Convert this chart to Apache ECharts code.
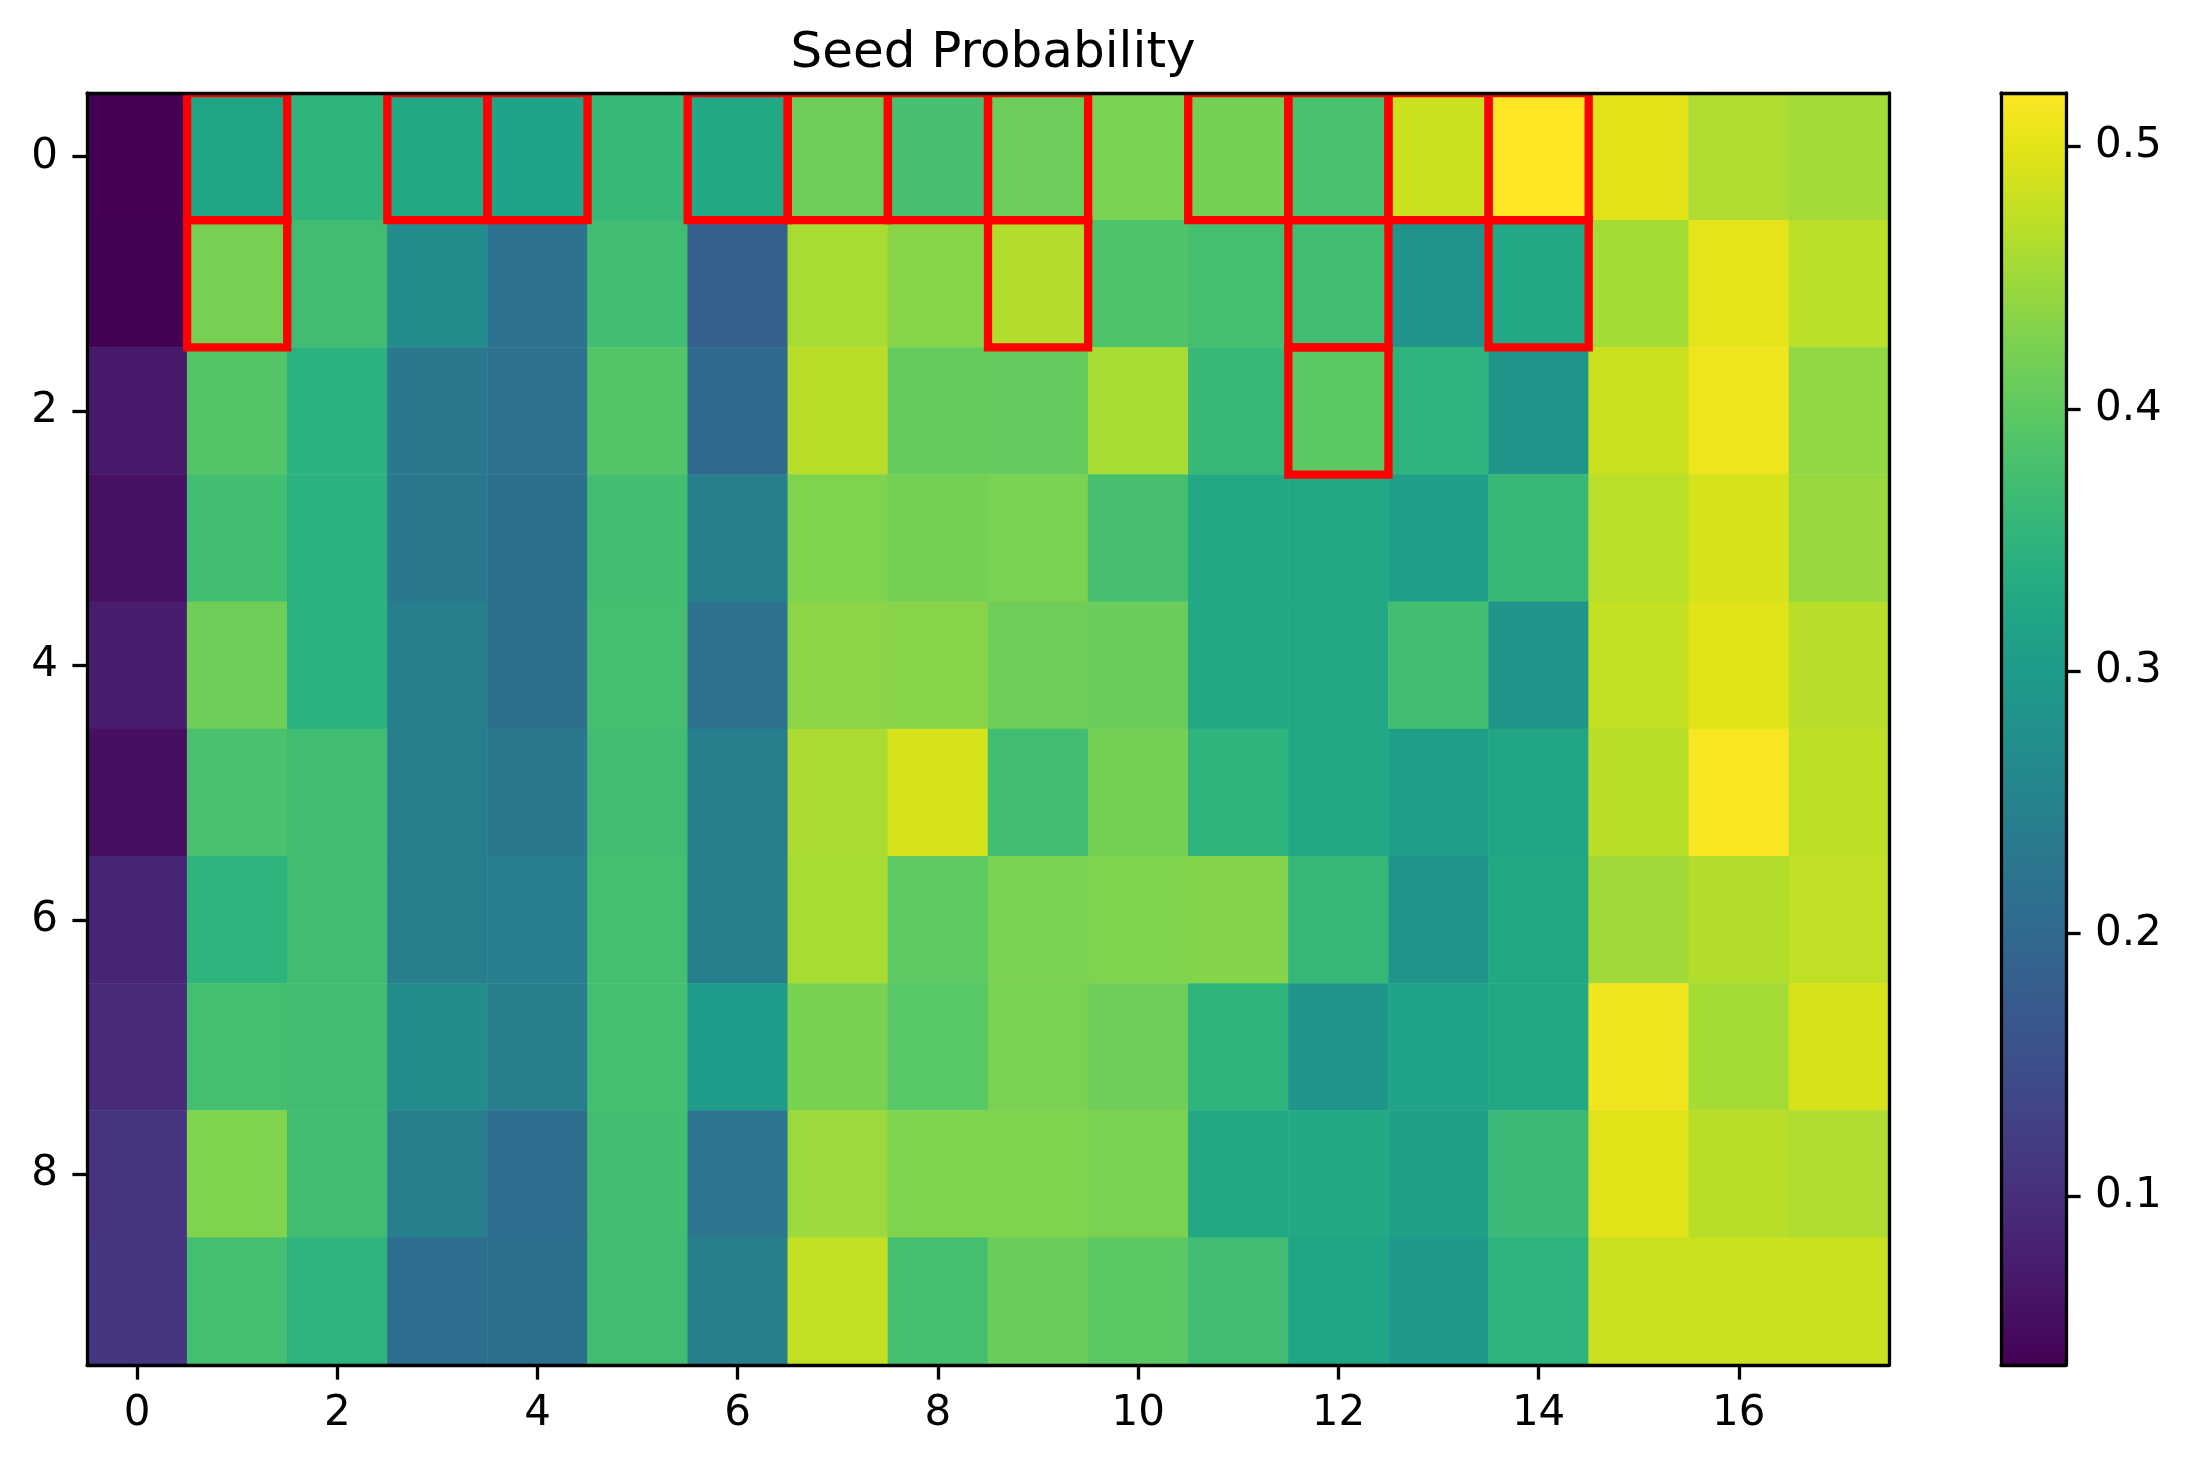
<!DOCTYPE html>
<html>
<head>
<meta charset="utf-8">
<script src="https://cdn.jsdelivr.net/npm/echarts@6/dist/echarts.min.js"></script>
<style>
html,body{margin:0;padding:0;background:#fff;}
#chart{width:2191px;height:1466px;}
</style>
</head>
<body>
<div id="chart"></div>
<script>
// ---- data ----
const xCategories = ['0','1','2','3','4','5','6','7','8','9','10','11','12','13','14','15','16','17'];
const yCategories = ['0','1','2','3','4','5','6','7','8','9'];
// rows (y = 0..9), each with 18 column values
const seedProb = [
  [0.036, 0.322, 0.351, 0.327, 0.317, 0.360, 0.327, 0.414, 0.377, 0.411, 0.424, 0.418, 0.380, 0.482, 0.520, 0.499, 0.461, 0.453],
  [0.037, 0.419, 0.370, 0.268, 0.217, 0.370, 0.186, 0.458, 0.433, 0.464, 0.385, 0.375, 0.370, 0.283, 0.327, 0.455, 0.501, 0.470],
  [0.069, 0.390, 0.346, 0.230, 0.217, 0.390, 0.200, 0.469, 0.406, 0.404, 0.458, 0.360, 0.397, 0.348, 0.290, 0.482, 0.508, 0.440],
  [0.057, 0.373, 0.346, 0.230, 0.213, 0.373, 0.244, 0.428, 0.418, 0.424, 0.377, 0.327, 0.327, 0.307, 0.360, 0.470, 0.489, 0.445],
  [0.074, 0.414, 0.346, 0.244, 0.213, 0.375, 0.217, 0.436, 0.433, 0.414, 0.409, 0.327, 0.327, 0.373, 0.290, 0.477, 0.496, 0.467],
  [0.055, 0.380, 0.370, 0.244, 0.230, 0.370, 0.244, 0.460, 0.489, 0.370, 0.418, 0.350, 0.327, 0.307, 0.320, 0.469, 0.517, 0.472],
  [0.084, 0.348, 0.370, 0.244, 0.240, 0.375, 0.244, 0.458, 0.399, 0.424, 0.428, 0.431, 0.358, 0.290, 0.327, 0.452, 0.464, 0.474],
  [0.094, 0.375, 0.370, 0.268, 0.244, 0.375, 0.302, 0.423, 0.394, 0.424, 0.414, 0.351, 0.290, 0.317, 0.327, 0.511, 0.455, 0.491],
  [0.108, 0.428, 0.370, 0.244, 0.210, 0.373, 0.225, 0.448, 0.428, 0.428, 0.424, 0.327, 0.329, 0.310, 0.363, 0.497, 0.469, 0.461],
  [0.110, 0.375, 0.348, 0.210, 0.213, 0.370, 0.244, 0.477, 0.375, 0.409, 0.397, 0.370, 0.322, 0.298, 0.348, 0.482, 0.482, 0.482]
];
// highlighted (outlined) cells as [column, row]
const highlightCells = [
  [1,0],[3,0],[4,0],[6,0],[7,0],[8,0],[9,0],[11,0],[12,0],[13,0],[14,0],
  [1,1],[9,1],[12,1],[14,1],
  [12,2]
];
const colorMin = 0.0356;
const colorMax = 0.5204;
const colorbarTicks = [0.1, 0.2, 0.3, 0.4, 0.5];
const viridis = ['#440154','#471365','#482475','#463480','#414487','#3b528b','#355f8d','#2f6c8e','#2a788e','#25848e','#21918c','#1e9c89','#22a884','#2fb47c','#44bf70','#5ec962','#7ad151','#9bd93c','#bddf26','#dfe318','#fde725'];

// ---- build ----
const heatData = [];
seedProb.forEach((row, r) => row.forEach((v, c) => heatData.push([c, r, v])));

const FONT = 'DejaVu Sans';
const LW = 3.3;
const gradStops = viridis.map((c, i) => ({offset: i / (viridis.length - 1), color: c}));

const chart = echarts.init(document.getElementById('chart'), null, {renderer: 'canvas'});
const lineOnly = {show: true, lineStyle: {color: '#000', width: LW}};
const option = {
  animation: false,
  backgroundColor: '#fff',
  title: {
    text: 'Seed Probability',
    left: 988, textAlign: 'center', top: 24,
    textStyle: {fontFamily: FONT, fontSize: 50, fontWeight: 'normal', color: '#000'}
  },
  grid: [
    {left: 87, top: 93, width: 1802, height: 1272, containLabel: false},
    {left: 2001, top: 93, width: 65, height: 1272, containLabel: false, show: true,
     backgroundColor: new echarts.graphic.LinearGradient(0, 1, 0, 0, gradStops), borderWidth: 0}
  ],
  xAxis: [
    {type: 'category', gridIndex: 0, data: xCategories, position: 'bottom', z: 10,
     axisLine: lineOnly,
     axisTick: {show: true, alignWithLabel: true, interval: 1, length: 14.6, lineStyle: {color: '#000', width: LW}},
     axisLabel: {interval: 1, margin: 28, fontFamily: FONT, fontSize: 42, color: '#000'},
     splitLine: {show: false}},
    {type: 'category', gridIndex: 0, data: xCategories, position: 'top', z: 10,
     axisLine: lineOnly, axisTick: {show: false}, axisLabel: {show: false}, splitLine: {show: false}},
    {type: 'category', gridIndex: 1, data: [''], position: 'bottom', z: 10,
     axisLine: lineOnly, axisTick: {show: false}, axisLabel: {show: false}},
    {type: 'category', gridIndex: 1, data: [''], position: 'top', z: 10,
     axisLine: lineOnly, axisTick: {show: false}, axisLabel: {show: false}}
  ],
  yAxis: [
    {type: 'category', gridIndex: 0, data: yCategories, inverse: true, position: 'left', z: 10,
     axisLine: lineOnly,
     axisTick: {show: true, alignWithLabel: true, interval: 1, length: 14.6, lineStyle: {color: '#000', width: LW}},
     axisLabel: {interval: 1, margin: 29, fontFamily: FONT, fontSize: 42, color: '#000'},
     splitLine: {show: false}},
    {type: 'category', gridIndex: 0, data: yCategories, inverse: true, position: 'right', z: 10,
     axisLine: lineOnly, axisTick: {show: false}, axisLabel: {show: false}, splitLine: {show: false}},
    {type: 'value', gridIndex: 1, min: colorMin, max: colorMax, position: 'right', z: 10,
     axisLine: lineOnly,
     axisTick: {show: true, length: 14.6, lineStyle: {color: '#000', width: LW}, customValues: colorbarTicks},
     axisLabel: {margin: 29, fontFamily: FONT, fontSize: 42, color: '#000', customValues: colorbarTicks,
                 formatter: v => (Math.round(v * 10) / 10).toFixed(1)},
     splitLine: {show: false}},
    {type: 'value', gridIndex: 1, min: colorMin, max: colorMax, position: 'left', z: 10,
     axisLine: lineOnly, axisTick: {show: false}, axisLabel: {show: false}, splitLine: {show: false}}
  ],
  visualMap: {
    show: false, type: 'continuous', min: colorMin, max: colorMax, dimension: 2, seriesIndex: 0,
    inRange: {color: viridis}
  },
  series: [
    {
      type: 'heatmap', xAxisIndex: 0, yAxisIndex: 0, data: heatData,
      itemStyle: {borderWidth: 0},
      emphasis: {disabled: true}, silent: true, progressive: 0
    },
    {
      type: 'custom', xAxisIndex: 0, yAxisIndex: 0, data: highlightCells, clip: true, silent: true, z: 5,
      encode: {x: 0, y: 1},
      renderItem: function (params, api) {
        const c = api.coord([api.value(0), api.value(1)]);
        const s = api.size([1, 1]);
        return {
          type: 'rect',
          shape: {x: c[0] - s[0] / 2, y: c[1] - s[1] / 2, width: s[0], height: s[1]},
          style: {fill: null, stroke: '#ff0000', lineWidth: 8.3}
        };
      }
    }
  ]
};
chart.setOption(option);
</script>
</body>
</html>
